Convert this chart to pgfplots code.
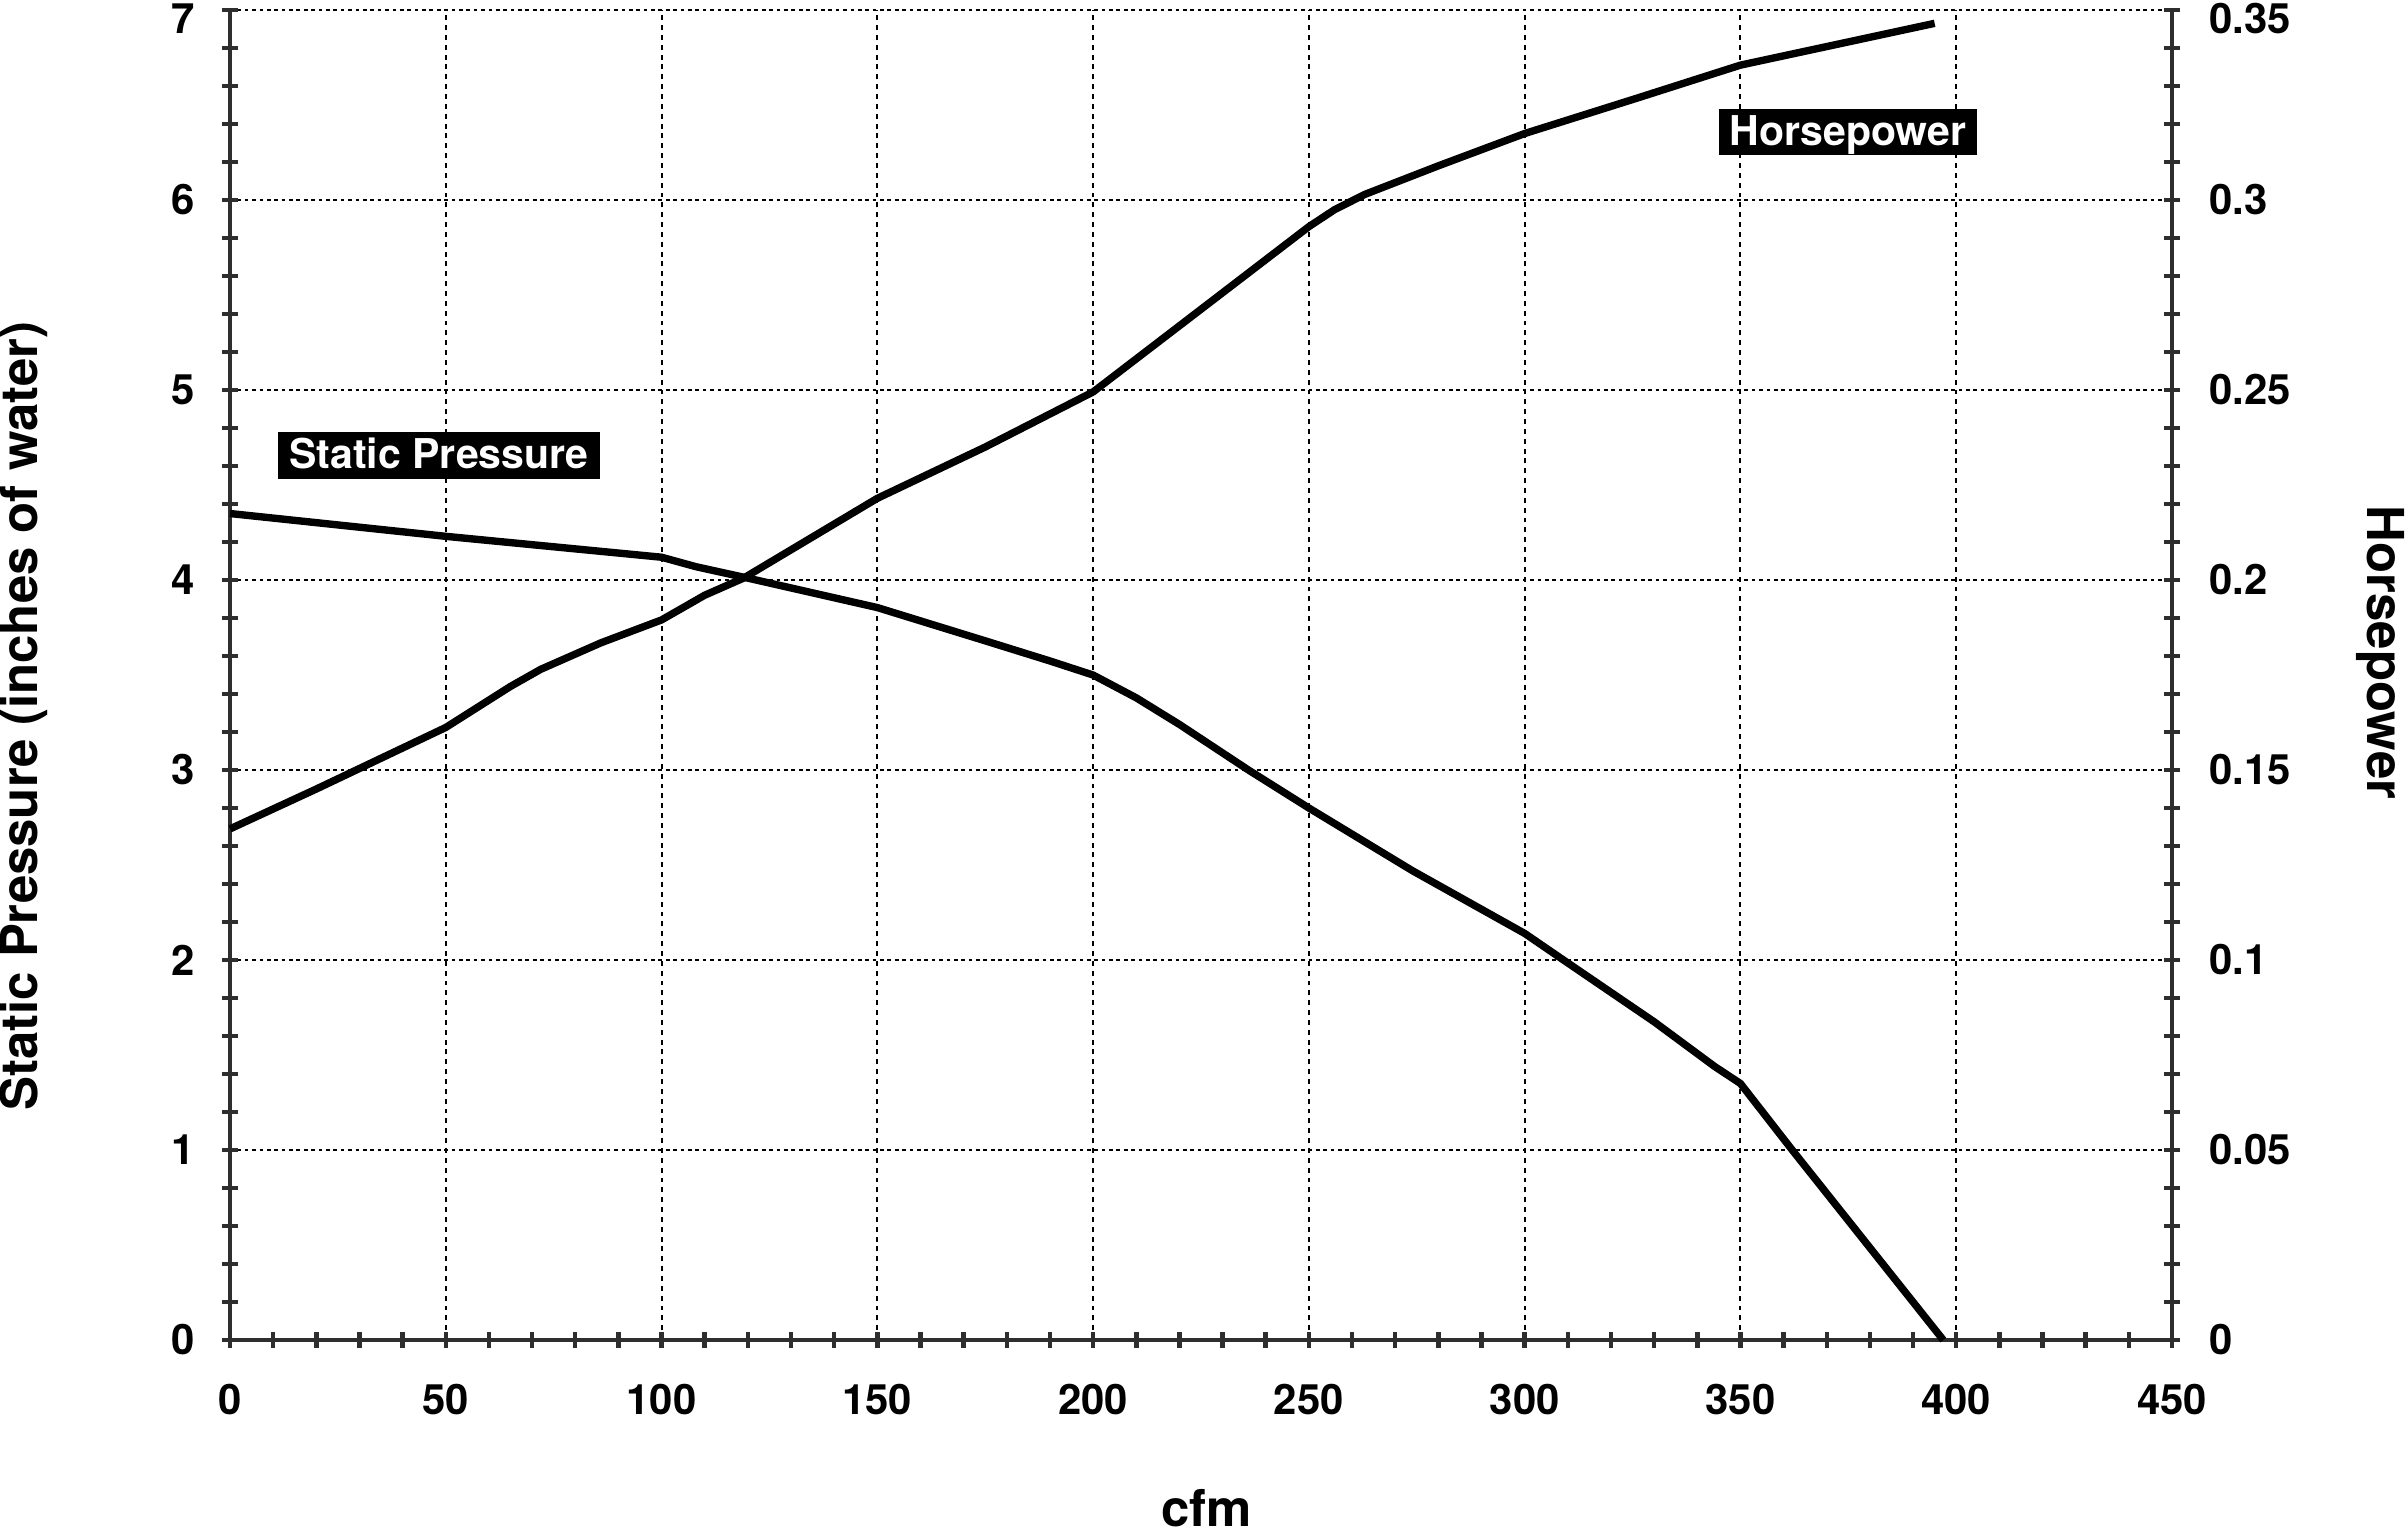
\documentclass[border=0pt]{standalone}
\usepackage{fontspec}
\setmainfont{TeX Gyre Heros}
\usepackage{pgfplots}
\usepackage{pgfplotstable}
\pgfplotsset{compat=1.18}

\pgfplotstableread{
x y
0 4.35
25 4.29
50 4.23
75 4.175
100 4.12
108 4.07
120 4.01
150 3.855
175 3.68
190 3.574
200 3.50
210 3.38
220 3.24
236 3.00
250 2.80
274 2.47
300 2.14
309 2.00
330 1.675
344 1.44
350 1.35
362 1.00
397 0.00
}\pressure

\pgfplotstableread{
x y
0 0.1345
20 0.145
50 0.1612
65 0.172
72 0.1765
86 0.1835
100 0.1895
110 0.196
119 0.2005
150 0.2215
175 0.235
200 0.2495
250 0.293
256 0.2975
263 0.3015
280 0.309
300 0.3175
326 0.3268
350 0.3355
395 0.3465
}\horsepower

\definecolor{axgray}{HTML}{2E2E2E}

\pgfplotsset{
  common/.style={
    scale only axis,
    width=473.2pt, height=324.07pt,
    at={(0,0)}, anchor=south west,
    xmin=0, xmax=450,
    every tick/.style={draw=axgray, line width=1.1pt},
    tick align=center,
    major tick length=4pt, minor tick length=4pt,
    tick label style={font=\fontsize{10.2}{12}\selectfont\bfseries, text=black},
    /pgf/number format/assume math mode=true,
    clip=false,
  },
  axfix/.style={
    axis line style={-, draw=axgray, line width=1.1pt},
    x axis line style={-},
    y axis line style={-},
  }
}

\begin{document}
\begin{tikzpicture}
\path[use as bounding box] (-56.04pt,-46.78pt) rectangle (529.97pt,326.51pt);

\begin{axis}[
  common,
  axis x line=bottom, axis y line=left,
  axfix,
  ymin=0, ymax=7,
  xtick={0,50,...,450}, ytick={0,1,...,7},
  minor x tick num=4, minor y tick num=4,
  grid=major,
  major x grid style={black, line width=0.5pt, dash pattern=on 1.2pt off 1.2pt},
  major y grid style={black, line width=0.5pt, dash pattern=on 0.9pt off 0.9pt},
  xticklabel shift=5.3pt,
  yticklabel shift=3pt,
  yticklabel={\ifnum\ticknum=7 \vphantom{0}\smash{\raisebox{-2pt}{\pgfmathprintnumber{\tick}}}\else\pgfmathprintnumber{\tick}\fi},
  xlabel={cfm},
  xlabel style={at={(axis description cs:0.503,-0.1405)}, anchor=base,
                font=\fontsize{12.4}{14}\selectfont\bfseries},
  ylabel={Static Pressure (inches of water)},
  ylabel style={at={(axis description cs:-0.1065,0.469)}, anchor=center,
                font=\fontsize{12.4}{14}\selectfont\bfseries},
]
\addplot[black, line width=1.8pt, line join=round] table[x=x,y=y] {\pressure};
\node[fill=black, text=white, font=\fontsize{10}{12}\selectfont\bfseries,
      inner xsep=2.7pt, inner ysep=0pt, text height=8.9pt, text depth=2.5pt]
      at (axis cs:48.4,4.655) {Static Pressure};
\node[fill=black, text=white, font=\fontsize{10}{12}\selectfont\bfseries,
      inner xsep=2.5pt, inner ysep=0pt, text height=8.9pt, text depth=2.5pt]
      at (axis cs:374.9,6.358) {Horsepower};
\end{axis}

\begin{axis}[
  common,
  axis x line=none, axis y line=right,
  axfix,
  ymin=0, ymax=0.35,
  ytick={0,0.05,0.1,0.15,0.2,0.25,0.3,0.35},
  minor y tick num=4,
  scaled y ticks=false,
  /pgf/number format/fixed, /pgf/number format/precision=2,
  yticklabel={\ifnum\ticknum=7 \vphantom{0}\smash{\raisebox{-2pt}{\pgfmathprintnumber{\tick}}}\else\pgfmathprintnumber{\tick}\fi},
  yticklabel shift=3.6pt,
  ylabel={Horsepower},
  ylabel style={at={(axis description cs:1.1076,0.517)}, anchor=center, rotate=180,
                font=\fontsize{12.4}{14}\selectfont\bfseries},
]
\addplot[black, line width=1.8pt, line join=round] table[x=x,y=y] {\horsepower};
\end{axis}
\end{tikzpicture}
\end{document}
